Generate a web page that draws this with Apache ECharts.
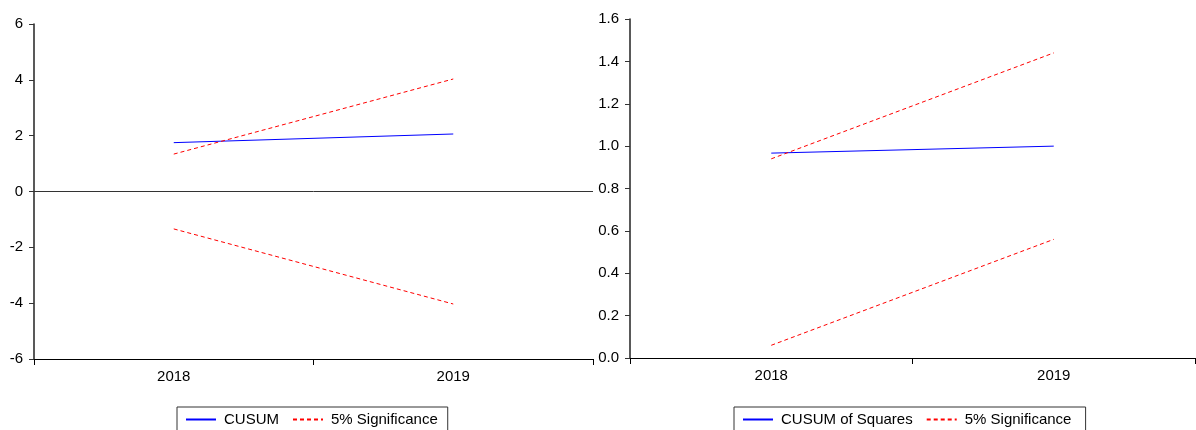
<!DOCTYPE html>
<html>
<head>
<meta charset="utf-8">
<script src="https://cdn.jsdelivr.net/npm/echarts@6/dist/echarts.min.js"></script>
<style>
  html, body { margin: 0; padding: 0; background: #fff; }
  #chart { width: 1196px; height: 430px; }
</style>
</head>
<body>
<div id="chart"></div>
<script>
// Stability tests: recursive CUSUM and CUSUM of squares with 5% bands
const years = ['2018', '2019'];

const cusum = [1.75, 2.06];
const cusumUpper = [1.34, 4.03];
const cusumLower = [-1.34, -4.03];

const cusumSq = [0.967, 1.0];
const cusumSqUpper = [0.94, 1.44];
const cusumSqLower = [0.06, 0.56];

const leftTicks = { min: -6, max: 6, interval: 2 };
const rightTicks = { min: 0, max: 1.6, interval: 0.2 };

const FONT = 'Liberation Sans, Arial, sans-serif';
const BLUE = '#0000ff';
const RED = '#ff0000';

function xAxis(gridIndex) {
  return {
    type: 'category',
    gridIndex,
    data: years,
    boundaryGap: true,
    axisLine: { onZero: false, lineStyle: { color: '#000', width: 1 } },
    axisTick: { show: true, inside: false, length: 6, lineStyle: { color: '#000' } },
    axisLabel: { color: '#000', fontFamily: FONT, fontSize: 15, margin: 10 },
    splitLine: { show: false }
  };
}

function yAxis(gridIndex, t, digits) {
  return {
    type: 'value',
    gridIndex,
    min: t.min, max: t.max, interval: t.interval,
    axisLine: { show: true, onZero: false, lineStyle: { color: '#222', width: 1.5 } },
    axisTick: { show: true, length: 5, lineStyle: { color: '#333' } },
    axisLabel: {
      color: '#000', fontFamily: FONT, fontSize: 15, margin: 11,
      formatter: v => digits ? v.toFixed(digits) : String(v)
    },
    splitLine: { show: false }
  };
}

function line(name, data, xi, color, dashed, extra) {
  return Object.assign({
    name, type: 'line', data,
    xAxisIndex: xi, yAxisIndex: xi,
    symbol: 'none', silent: true, animation: false,
    lineStyle: { color, width: 1, type: dashed ? [4, 3] : 'solid' },
    itemStyle: { color }
  }, extra || {});
}

const legendBase = {
  orient: 'horizontal',
  top: 407,
  borderColor: '#333',
  borderWidth: 1,
  padding: [5, 10, 12, 8],
  itemWidth: 30,
  itemHeight: 12,
  itemGap: 13,
  // hide the marker dot so only the line sample shows
  itemStyle: { color: 'rgba(0,0,0,0)', borderWidth: 0 },
  textStyle: { color: '#000', fontFamily: FONT, fontSize: 15, padding: [0, 0, 0, 3] },
  selectedMode: false
};

const chart = echarts.init(document.getElementById('chart'), null, { renderer: 'canvas' });
chart.setOption({
  backgroundColor: '#fff',
  animation: false,
  grid: [
    { left: 34, right: 603, top: 24, bottom: 71 },
    { left: 630, right: 1, top: 19, bottom: 72 }
  ],
  xAxis: [xAxis(0), xAxis(1)],
  yAxis: [yAxis(0, leftTicks, 0), yAxis(1, rightTicks, 1)],
  legend: [
    Object.assign({}, legendBase, { left: 177, data: ['CUSUM', '5% Significance'] }),
    Object.assign({}, legendBase, { left: 734, data: ['CUSUM of Squares', '5% Significance '] })
  ],
  series: [
    line('CUSUM', cusum, 0, BLUE, false, {
      markLine: {
        silent: true, symbol: 'none', label: { show: false },
        lineStyle: { color: '#333', width: 1, type: 'solid' },
        data: [{ yAxis: 0 }]
      }
    }),
    line('5% Significance', cusumUpper, 0, RED, true),
    line('5% Significance', cusumLower, 0, RED, true),
    line('CUSUM of Squares', cusumSq, 1, BLUE, false),
    line('5% Significance ', cusumSqUpper, 1, RED, true),
    line('5% Significance ', cusumSqLower, 1, RED, true)
  ]
});
</script>
</body>
</html>
